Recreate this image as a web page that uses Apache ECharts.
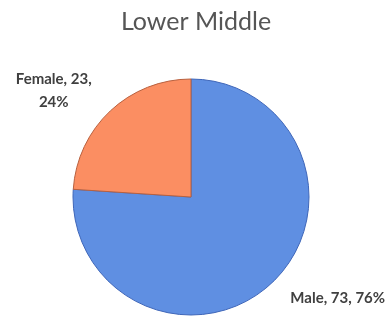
<!DOCTYPE html>
<html>
<head>
<meta charset="utf-8">
<script src="https://cdn.jsdelivr.net/npm/echarts@6/dist/echarts.min.js"></script>
<style>
html, body { margin: 0; padding: 0; background: #fff; }
#chart { width: 392px; height: 318px; }
</style>
</head>
<body>
<div id="chart"></div>
<script>
const categories = ['Male', 'Female']
const values = [73, 23]
const colors = ['#5f8fe2', '#fb8e62']
const borders = ['#3f66b8', '#b8603e']

const chart = echarts.init(document.getElementById('chart'))

const option = {
    animation: false,
    title: {
        text: 'Lower Middle',
        left: 'center',
        top: 4,
        textStyle: {
            fontFamily: 'Lato',
            fontSize: 25,
            fontWeight: 'normal',
            color: '#555555'
        }
    },
    series: [
        {
            type: 'pie',
            center: [191, 197],
            radius: 118,
            startAngle: 90,
            clockwise: true,
            label: {
                show: true,
                position: 'outside',
                overflow: 'none',
                fontFamily: 'Lato',
                fontSize: 15,
                fontWeight: 'bold',
                color: '#404040',
                lineHeight: 23,
                formatter: function (p) {
                    if (p.name === 'Female') {
                        return '{c|' + p.name + ', ' + p.value + ',\n' + Math.round(p.percent) + '%}'
                    }
                    return p.name + ', ' + p.value + ', ' + Math.round(p.percent) + '%'
                },
                rich: {
                    c: {
                        align: 'center',
                        fontFamily: 'Lato',
                        fontSize: 15,
                        fontWeight: 'bold',
                        color: '#404040',
                        lineHeight: 23
                    }
                }
            },
            labelLine: {
                show: false,
                length: 20,
                length2: 0
            },
            data: categories.map((name, i) => ({
                name: name,
                value: values[i],
                label: name === 'Female' ? {padding: [0, 0, 12, 0]} : {},
                itemStyle: {
                    color: colors[i],
                    borderColor: borders[i],
                    borderWidth: 1
                }
            }))
        }
    ]
}

chart.setOption(option)
</script>
</body>
</html>
